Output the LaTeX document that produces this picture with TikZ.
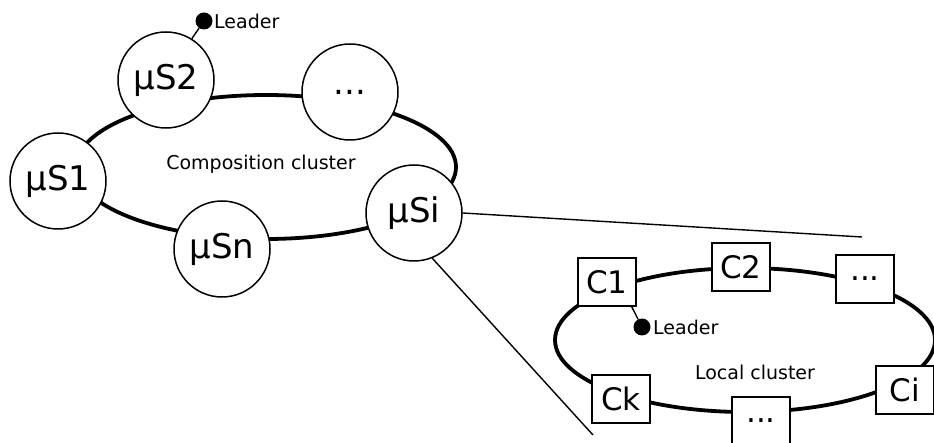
\documentclass[tikz,border=0pt]{standalone}
\usepackage{fontspec}
\setmainfont{DejaVu Sans}
\begin{document}
\begin{tikzpicture}[x=1pt,y=-1pt,
 svc/.style={circle,draw,line width=1.5pt,fill=white,minimum size=96pt,inner sep=0pt,font=\fontsize{34}{38}\selectfont},
 comp/.style={rectangle,draw,line width=1.5pt,fill=white,minimum width=58pt,minimum height=48pt,inner sep=0pt,font=\fontsize{31}{35}\selectfont},
 ring/.style={line width=3.8pt},
 dotnode/.style={circle,fill=black,minimum size=17pt,inner sep=0pt},
 lbl/.style={font=\fontsize{19}{22}\selectfont,inner sep=0pt},
 zoomline/.style={line width=1.4pt},
 leadline/.style={line width=1.4pt}]
\useasboundingbox (0,0) rectangle (934,443);
\clip (0,0) rectangle (934,443);
% composition cluster
\draw[ring] (266,167) ellipse [x radius=190, y radius=72];
\node[lbl] (cclabel) at (261,164) {Composition cluster};
\node[svc] (s1) at (58,181) {μS1};
\node[svc] (s2) at (166,80) {μS2};
\node[svc] (sdots) at (350,92) {...};
\node[svc] (si) at (414,213) {μSi};
\node[svc] (sn) at (222,249) {μSn};
\node[dotnode] (ldot1) at (204,21) {};
\node[lbl,anchor=west] (lead1) at (214,21) {Leader};
\draw[leadline] (s2.58) -- (ldot1);
% local cluster
\draw[ring] (745,340) ellipse [x radius=190, y radius=72];
\node[lbl] (lclabel) at (755,372) {Local cluster};
\node[comp] (c1) at (607,282) {C1};
\node[comp] (c2) at (741,267) {C2};
\node[comp] (cdots) at (865,279) {...};
\node[comp] (ci) at (905,390) {Ci};
\node[comp] (ck) at (621,399) {Ck};
\node[comp] (cdots2) at (761,421) {...};
\node[dotnode] (ldot2) at (642,327) {};
\node[lbl,anchor=west] (lead2) at (653,327) {Leader};
\draw[leadline] (c1.south east) ++(-5,0) coordinate (c1p) -- (ldot2);
% zoom lines
\coordinate (z1) at (862,237);
\coordinate (z2) at (593,435);
\draw[zoomline] (si.east) -- (z1);
\draw[zoomline] (si.-68) -- (z2);
\end{tikzpicture}
\end{document}
